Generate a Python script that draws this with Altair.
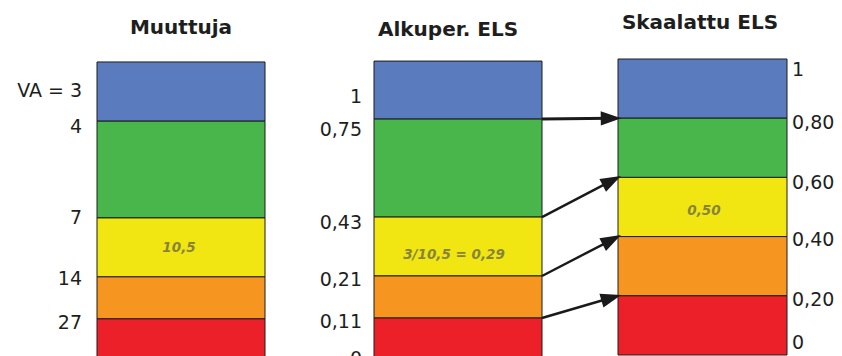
import math
import altair as alt
import pandas as pd

# ---------------- data ----------------
titles = ["Muuttuja", "Alkuper. ELS", "Skaalattu ELS"]
band_colors = ["#5B7BBF", "#48B64A", "#F2E612", "#F6951F", "#EC2028"]  # top -> bottom

muuttuja_labels = ["VA = 3", "4", "7", "14", "27"]
alkuper_labels = ["1", "0,75", "0,43", "0,21", "0,11", "0"]
skaalattu_labels = ["1", "0,80", "0,60", "0,40", "0,20", "0"]

# band edges on the common (scaled ELS) vertical axis, top -> bottom
skaalattu_edges = [1.0, 0.8, 0.6, 0.4, 0.2, 0.0]
muuttuja_edges = [0.99, 0.79, 0.463, 0.264, 0.122, -0.05]
alkuper_edges = [0.993, 0.797, 0.466, 0.267, 0.125, -0.05]

# where each tick label sits on that axis
muuttuja_label_y = [0.892, 0.770, 0.463, 0.257, 0.108]
alkuper_label_y = [0.872, 0.760, 0.446, 0.253, 0.111, -0.012]
skaalattu_label_y = [0.963, 0.784, 0.581, 0.389, 0.186, 0.04]

band_notes = ["10,5", "3/10,5 = 0,29", "0,50"]
band_note_y = [0.361, 0.338, 0.486]

# ---------------- layout ----------------
W, H = 842, 296
col_left = [97, 374, 618]
col_right = [265, 542, 787]
title_x = [181, 448, 700]
title_y = [1.105, 1.098, 1.122]
note_x = [179, 454, 704]
label_x = [82, 362, 792]

xs = alt.Scale(domain=[0, W])
ys = alt.Scale(domain=[0, 1], nice=False, zero=False)

# ---------------- tables ----------------
rect_rows = []
for ci, edges in enumerate([muuttuja_edges, alkuper_edges, skaalattu_edges]):
    for bi in range(5):
        rect_rows.append({"x": col_left[ci], "x2": col_right[ci],
                          "y": edges[bi], "y2": edges[bi + 1],
                          "color": band_colors[bi]})
rects = pd.DataFrame(rect_rows)

title_df = pd.DataFrame({"x": title_x, "y": title_y, "t": titles})
note_df = pd.DataFrame({"x": note_x, "y": band_note_y, "t": band_notes})

lab_left = pd.DataFrame({"x": [label_x[0]] * 5, "y": muuttuja_label_y, "t": muuttuja_labels})
lab_mid = pd.DataFrame({"x": [label_x[1]] * 6, "y": alkuper_label_y, "t": alkuper_labels})
lab_right = pd.DataFrame({"x": [label_x[2]] * 6, "y": skaalattu_label_y, "t": skaalattu_labels})

arrow_rows = []
head_len = 7
for i in range(1, 5):
    y0 = alkuper_edges[i]
    y1 = skaalattu_edges[i]
    dx = col_left[2] - col_right[1]
    dy = (y1 - y0) * H
    L = math.hypot(dx, dy)
    hx = col_left[2] - head_len * dx / L
    hy = y1 - head_len * (dy / L) / H
    ang = (-math.degrees(math.atan2(dy, dx))) % 360
    arrow_rows.append({"x": col_right[1], "x2": hx, "y": y0, "y2": hy,
                       "hx": hx, "hy": hy, "ang": ang,
                       "w": 3.0 if i == 1 else 2.4})
arrows = pd.DataFrame(arrow_rows)

# ---------------- marks ----------------
X = lambda f: alt.X(f, scale=xs, axis=None)
Y = lambda f: alt.Y(f, scale=ys, axis=None)

bands = alt.Chart(rects).mark_rect(stroke="#1c1c1c", strokeWidth=1).encode(
    x=X("x:Q"), x2="x2:Q", y=Y("y:Q"), y2="y2:Q",
    color=alt.Color("color:N", scale=None),
)

lines = alt.Chart(arrows).mark_rule(color="#1a1a1a").encode(
    x=X("x:Q"), x2="x2:Q", y=Y("y:Q"), y2="y2:Q",
    strokeWidth=alt.StrokeWidth("w:Q", scale=None),
)

heads = alt.Chart(arrows).mark_point(
    shape="M-1,-0.7L1,0L-1,0.7Z", filled=True, size=420,
    color="#1a1a1a", opacity=1, strokeWidth=0,
).encode(x=X("hx:Q"), y=Y("hy:Q"), angle=alt.Angle("ang:Q", scale=None))

font = "DejaVu Sans"
title_text = alt.Chart(title_df).mark_text(
    font=font, fontSize=20, fontWeight="bold", color="#1e1e1e", baseline="middle"
).encode(x=X("x:Q"), y=Y("y:Q"), text="t:N")

note_text = alt.Chart(note_df).mark_text(
    font=font, fontSize=13.5, fontWeight="bold", fontStyle="italic",
    color="#86843A", baseline="middle"
).encode(x=X("x:Q"), y=Y("y:Q"), text="t:N")

lab_kw = dict(font=font, fontSize=19, color="#1e1e1e", baseline="middle")
t_left = alt.Chart(lab_left).mark_text(align="right", **lab_kw).encode(
    x=X("x:Q"), y=Y("y:Q"), text="t:N")
t_mid = alt.Chart(lab_mid).mark_text(align="right", **lab_kw).encode(
    x=X("x:Q"), y=Y("y:Q"), text="t:N")
t_right = alt.Chart(lab_right).mark_text(align="left", **lab_kw).encode(
    x=X("x:Q"), y=Y("y:Q"), text="t:N")

chart = alt.layer(
    bands, lines, heads, title_text, note_text, t_left, t_mid, t_right
).properties(
    width=W, height=H,
    padding={"top": 59, "bottom": 1, "left": 0, "right": 0},
    autosize="none", background="white",
).configure_view(stroke=None)

chart.save("out.html", embed_options={"renderer": "svg", "actions": False})
